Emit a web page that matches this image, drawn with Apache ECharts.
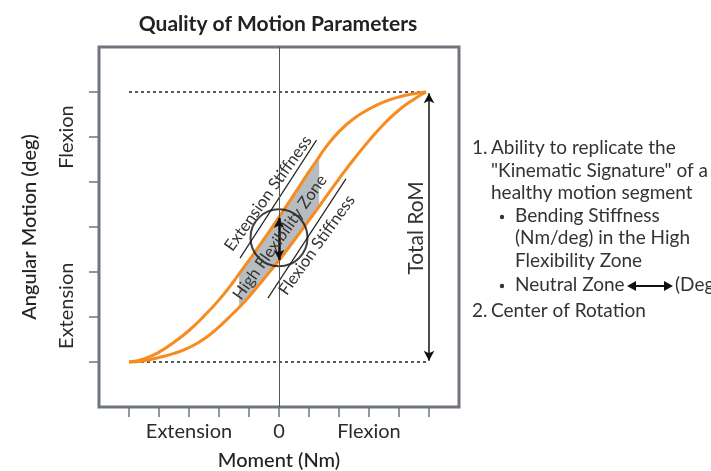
<!DOCTYPE html>
<html>
<head>
<meta charset="utf-8">
<script src="https://cdn.jsdelivr.net/npm/echarts@6/dist/echarts.min.js"></script>
<style>
html, body { margin: 0; padding: 0; background: #fff; }
#chart { width: 711px; height: 471px; }
</style>
</head>
<body>
<div id="chart"></div>
<script>
// axis ticks and labels
const momentTicks = [-5, -4, -3, -2, -1, 0, 1, 2, 3, 4, 5];
const angleTicks = [-3, -2, -1, 0, 1, 2, 3];
const momentLabelValues = [-3, 0, 3];
const momentLabels = ['Extension', '0', 'Flexion'];
const angleLabelValues = [2, -1.75];
const angleLabels = ['Flexion', 'Extension'];

// upper curve (extension side) and lower curve (flexion side)
const upperMoment = [-5, -4.5, -4, -3.5, -3, -2.5, -2, -1.5, -1.33, -1, -0.5, 0, 0.5, 1, 1.34, 1.5, 2, 2.5, 3, 3.5, 4, 4.5, 4.9];
const upperAngle = [-3, -2.93, -2.78, -2.56, -2.3, -1.98, -1.62, -1.2, -1.04, -0.74, -0.27, 0.22, 0.72, 1.23, 1.56, 1.72, 2.12, 2.41, 2.62, 2.78, 2.89, 2.96, 3];
const lowerMoment = [-5, -4.5, -4, -3.5, -3, -2.5, -2, -1.5, -1.33, -1, -0.5, 0, 0.5, 1, 1.34, 1.5, 2, 2.5, 3, 3.5, 4, 4.5, 4.9];
const lowerAngle = [-3, -2.97, -2.9, -2.81, -2.68, -2.49, -2.22, -1.9, -1.79, -1.55, -1.15, -0.74, -0.3, 0.15, 0.46, 0.61, 1.07, 1.51, 1.92, 2.29, 2.6, 2.84, 3];

// annotations
const zoneMoment = [-1.33, 1.34];          // high flexibility zone edges
const romMoment = 5;
const romAngle = [2.97, -2.97];           // total range of motion
const limitAngles = [3, -3];              // dotted limits
const limitMoment = [-5, 5];
const neutralZone = [0.2, -0.73];         // neutral zone at zero moment
const rotationCenter = [0, -0.24];
const extStiffness = [[-1.3, -0.69], [1.25, 1.93]];
const flexStiffness = [[-0.37, -1.58], [2.23, 1.07]];

const notes = [
    ['1.', 472, 148],
    ['Ability to replicate the', 491, 148],
    ['"Kinematic Signature" of a', 491, 171],
    ['healthy motion segment', 491, 193],
    ['Bending Stiffness', 515, 216],
    ['(Nm/deg) in the High', 515, 238],
    ['Flexibility Zone', 515, 261],
    ['Neutral Zone', 515, 285],
    ['(Deg', 675, 285],
    ['2.', 472, 311],
    ['Center of Rotation', 491, 311]
];

const FONT = 'Lato, "Noto Sans", sans-serif';
const ORANGE = '#f68b1f';
const INK = '#2b2b2b';

function zip(xs, ys) {
    return xs.map((x, i) => [x, ys[i]]);
}

const chart = echarts.init(document.getElementById('chart'), null, { renderer: 'canvas' });

const option = {
    animation: false,
    title: {
        text: 'Quality of Motion Parameters',
        left: 278,
        top: 14,
        padding: 0,
        textAlign: 'center',
        textStyle: { fontFamily: FONT, fontSize: 21, fontWeight: 'bold', color: '#222' }
    },
    grid: {
        left: 99, top: 47, width: 360, height: 360,
        outerBoundsMode: 'none',
        show: true,
        borderColor: '#6e757c',
        borderWidth: 3,
        backgroundColor: 'transparent'
    },
    xAxis: {
        type: 'value',
        min: -6, max: 6,
        splitLine: { show: false },
        axisLine: { show: false, onZero: false },
        axisTick: {
            show: true, inside: false, length: 10,
            customValues: momentTicks,
            lineStyle: { color: '#6e757c', width: 1.5 }
        },
        axisLabel: {
            customValues: momentLabelValues,
            formatter: v => momentLabels[momentLabelValues.indexOf(v)],
            margin: 15,
            fontFamily: FONT, fontSize: 20, color: INK
        },
        name: 'Moment (Nm)',
        nameLocation: 'middle',
        nameGap: 44,
        nameTextStyle: { fontFamily: FONT, fontSize: 20, fontWeight: 500, color: '#222' }
    },
    yAxis: {
        type: 'value',
        min: -4, max: 4,
        splitLine: { show: false },
        axisLine: { show: false, onZero: false },
        axisTick: {
            show: true, inside: false, length: 10,
            customValues: angleTicks,
            lineStyle: { color: '#6e757c', width: 1.5 }
        },
        axisLabel: {
            customValues: angleLabelValues,
            formatter: v => angleLabels[angleLabelValues.indexOf(v)],
            rotate: 90,
            margin: 22,
            fontFamily: FONT, fontSize: 20, color: INK
        },
        name: 'Angular Motion (deg)',
        nameLocation: 'middle',
        nameRotate: 90,
        nameGap: 59,
        nameTextStyle: { fontFamily: FONT, fontSize: 20, fontWeight: 500, color: '#222' }
    },
    series: [
        {
            // high flexibility zone between the two curves
            type: 'custom',
            silent: true,
            z: 1,
            data: [[zoneMoment[0], 0]],
            renderItem: function (params, api) {
                const top = [];
                const bottom = [];
                upperMoment.forEach((m, i) => {
                    if (m >= zoneMoment[0] && m <= zoneMoment[1]) top.push(api.coord([m, upperAngle[i]]));
                });
                lowerMoment.forEach((m, i) => {
                    if (m >= zoneMoment[0] && m <= zoneMoment[1]) bottom.push(api.coord([m, lowerAngle[i]]));
                });
                return {
                    type: 'polygon',
                    shape: { points: top.concat(bottom.reverse()) },
                    style: { fill: '#b7bcc1' }
                };
            }
        },
        {
            type: 'line',
            data: [],
            silent: true,
            markLine: {
                silent: true,
                symbol: 'none',
                label: { show: false },
                lineStyle: { color: '#555', width: 1, type: 'solid' },
                data: [{ xAxis: 0 }]
            }
        },
        {
            type: 'line',
            silent: true,
            symbol: 'none',
            lineStyle: { color: '#222', width: 1.5, type: [3, 3] },
            data: zip(limitMoment, [limitAngles[0], limitAngles[0]])
        },
        {
            type: 'line',
            silent: true,
            symbol: 'none',
            lineStyle: { color: '#222', width: 1.5, type: [3, 3] },
            data: zip(limitMoment, [limitAngles[1], limitAngles[1]])
        },
        {
            type: 'line',
            silent: true,
            symbol: 'none',
            lineStyle: { color: '#222', width: 1.2 },
            data: extStiffness
        },
        {
            type: 'line',
            silent: true,
            symbol: 'none',
            lineStyle: { color: '#222', width: 1.2 },
            data: flexStiffness
        },
        {
            type: 'line',
            silent: true,
            symbol: 'none',
            smooth: 0.5,
            z: 3,
            lineStyle: { color: ORANGE, width: 3 },
            data: zip(upperMoment, upperAngle)
        },
        {
            type: 'line',
            silent: true,
            symbol: 'none',
            smooth: 0.5,
            z: 3,
            lineStyle: { color: ORANGE, width: 3 },
            data: zip(lowerMoment, lowerAngle)
        },
        {
            type: 'scatter',
            silent: true,
            z: 4,
            symbol: 'circle',
            symbolSize: 57,
            itemStyle: { color: 'rgba(0,0,0,0)', borderColor: '#111', borderWidth: 2 },
            data: [rotationCenter]
        },
        {
            type: 'line',
            data: [],
            silent: true,
            z: 5,
            markLine: {
                silent: true,
                symbol: ['arrow', 'arrow'],
                symbolSize: [8, 10],
                label: { show: false },
                lineStyle: { color: '#111', type: 'solid' },
                data: [
                    [{ coord: [0, neutralZone[0]], lineStyle: { width: 2.5 } }, { coord: [0, neutralZone[1]] }],
                    [{ coord: [romMoment, romAngle[0]], lineStyle: { width: 1.5 } }, { coord: [romMoment, romAngle[1]] }]
                ]
            }
        }
    ]
};

chart.setOption(option);

// annotation texts placed through the chart's own scales
function px(p) {
    return chart.convertToPixel({ gridIndex: 0 }, p);
}
function rotText(text, at, rot, size) {
    const p = px(at);
    return {
        type: 'text', x: p[0], y: p[1], rotation: rot, z: 10, silent: true,
        style: {
            text: text, fill: '#333', font: size + 'px ' + FONT,
            align: 'center', verticalAlign: 'middle'
        }
    };
}
const slope = 0.95;
const graphics = [
    rotText('Extension Stiffness', [-0.36, 0.75], slope, 16.5),
    rotText('Flexion Stiffness', [1.26, -0.4], slope, 16.5),
    rotText('High Flexibility Zone', [0.03, -0.23], slope, 16.5),
    rotText('Total RoM', [4.57, -0.02], Math.PI / 2, 21)
];
notes.forEach(n => {
    graphics.push({
        type: 'text', x: n[1], y: n[2], silent: true,
        style: { text: n[0], fill: '#333', font: '19px ' + FONT, align: 'left', verticalAlign: 'middle' }
    });
});
[216, 285].forEach(y => {
    graphics.push({
        type: 'circle', silent: true,
        shape: { cx: 502, cy: y + 1, r: 2.2 },
        style: { fill: '#333' }
    });
});
// neutral zone arrow in the notes
graphics.push({
    type: 'group', silent: true,
    children: [
        { type: 'line', shape: { x1: 633, y1: 286, x2: 667, y2: 286 }, style: { stroke: '#111', lineWidth: 2 } },
        { type: 'polygon', shape: { points: [[627, 286], [636, 281], [636, 291]] }, style: { fill: '#111' } },
        { type: 'polygon', shape: { points: [[673, 286], [664, 281], [664, 291]] }, style: { fill: '#111' } }
    ]
});
chart.setOption({ graphic: graphics });

window.addEventListener('resize', () => chart.resize());
</script>
</body>
</html>
